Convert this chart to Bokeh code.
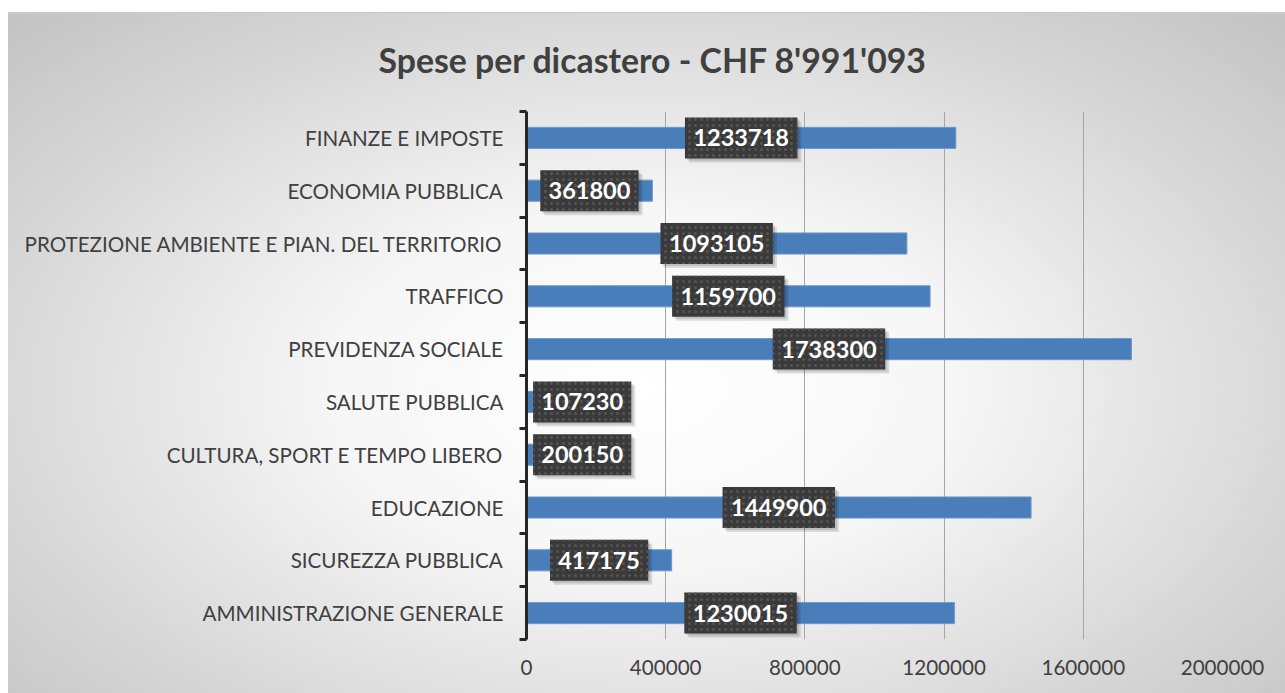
from bokeh.plotting import figure
from bokeh.models import FixedTicker, ColumnDataSource, Range1d, NumeralTickFormatter
from bokeh.core.properties import value
from bokeh.transform import dodge
from bokeh.embed import file_html
from bokeh.resources import INLINE

# ---- data (bottom to top, as in the chart) ----
categories = [
    "AMMINISTRAZIONE GENERALE",
    "SICUREZZA PUBBLICA",
    "EDUCAZIONE",
    "CULTURA, SPORT E TEMPO LIBERO",
    "SALUTE PUBBLICA",
    "PREVIDENZA SOCIALE",
    "TRAFFICO",
    "PROTEZIONE AMBIENTE E PIAN. DEL TERRITORIO",
    "ECONOMIA PUBBLICA",
    "FINANZE E IMPOSTE",
]
spese = [1230015, 417175, 1449900, 200150, 107230, 1738300, 1159700, 1093105, 361800, 1233718]
x_ticks = [0, 400000, 800000, 1200000, 1600000, 2000000]
title_text = "Spese per dicastero - CHF 8'991'093"

FONT = "Lato"
TXT = "#404040"

W, H = 1277, 691
X_MAX = 2000000
BL, BR, BT, BB = 518, 63, 109, 54
frame_w = W - BL - BR
frame_h = H - BT - BB
px_per_unit = frame_w / X_MAX
px_per_cat = frame_h / len(categories)

pos = [i + 0.5 for i in range(len(categories))]
min_center = 160000  # labels kept inside the plot near the axis
label_x = [max(v / 2, min_center) for v in spese]
labels = [str(v) for v in spese]
box_w = [14.2 * len(s) + 13 for s in labels]

src = ColumnDataSource(dict(y=pos, v=spese, lx=label_x, lab=labels, bw=box_w))

p = figure(width=W, height=H, output_backend="svg", toolbar_location=None,
           x_range=Range1d(0, X_MAX), y_range=Range1d(0, len(categories)),
           min_border_left=BL, min_border_right=BR, min_border_top=BT,
           min_border_bottom=BB)
p.border_fill_color = None
p.background_fill_color = None
p.outline_line_color = None
p.styles = {
    "background": ("linear-gradient(to bottom, #ffffff 0px, #ffffff 10px, #bdbdbd 10px, "
                   "#d0d0d0 11px, transparent 12px), "
                   "radial-gradient(ellipse 70% 75% at 50% 56%, #ffffff 0%, #f6f6f6 35%, "
                   "#d6d6d6 75%, #c4c4c4 100%)"),
    "margin-left": "8px",
    "margin-top": "2px",
}

# title (left edge placed relative to the frame's left edge)
p.title.text = title_text
p.title.text_font = FONT
p.title.text_font_style = "bold"
p.title.text_font_size = "33.8px"
p.title.text_color = TXT
p.title.align = "left"
p.title.offset = 370 - BL
p.title.standoff = 63

# grid
p.xgrid.ticker = FixedTicker(ticks=x_ticks[1:])
p.xgrid.grid_line_color = "#a6a6a6"
p.xgrid.grid_line_width = 1
p.ygrid.grid_line_color = None

# bars
p.hbar(y="y", right="v", left=0, height=0.4, source=src,
       fill_color="#4a7ebb", line_color="#6f98cc", line_width=1)

# label shadows
sx = 4 / px_per_unit
sy = 4 / px_per_cat
p.rect(x=dodge("lx", sx), y=dodge("y", -sy), width="bw", height=41,
       width_units="screen", height_units="screen", source=src,
       fill_color="#000000", fill_alpha=0.12, line_color=None)
p.rect(x=dodge("lx", sx / 2), y=dodge("y", -sy / 2), width="bw", height=41,
       width_units="screen", height_units="screen", source=src,
       fill_color="#000000", fill_alpha=0.12, line_color=None)
# label boxes
p.rect(x="lx", y="y", width="bw", height=41, width_units="screen",
       height_units="screen", source=src, fill_color="#3a3a3a",
       line_color=None, hatch_pattern="dot", hatch_color="#545454",
       hatch_scale=6, hatch_weight=1.2)
p.text(x="lx", y="y", text="lab", source=src, text_color="white",
       text_font=value(FONT), text_font_style="bold", text_font_size="23.5px",
       text_align="center", text_baseline="middle")

# y axis
ya = p.yaxis[0]
ya.ticker = FixedTicker(ticks=pos, minor_ticks=list(range(len(categories) + 1)))
ya.major_label_overrides = {pp: c for pp, c in zip(pos, categories)}
ya.major_tick_line_color = None
ya.minor_tick_line_color = "#262626"
ya.minor_tick_line_width = 3
ya.minor_tick_out = 7
ya.minor_tick_in = 0
ya.axis_line_color = "#262626"
ya.axis_line_width = 3
ya.major_label_text_font = FONT
ya.major_label_text_font_size = "20.6px"
ya.major_label_text_color = TXT
ya.major_label_standoff = 16

# x axis
xa = p.xaxis[0]
xa.ticker = FixedTicker(ticks=x_ticks)
xa.formatter = NumeralTickFormatter(format="0")
xa.axis_line_color = None
xa.major_tick_line_color = None
xa.minor_tick_line_color = None
xa.major_label_text_font = FONT
xa.major_label_text_font_size = "20.6px"
xa.major_label_text_color = TXT
xa.major_label_standoff = 14

open("out.html", "w").write(file_html(p, INLINE))
